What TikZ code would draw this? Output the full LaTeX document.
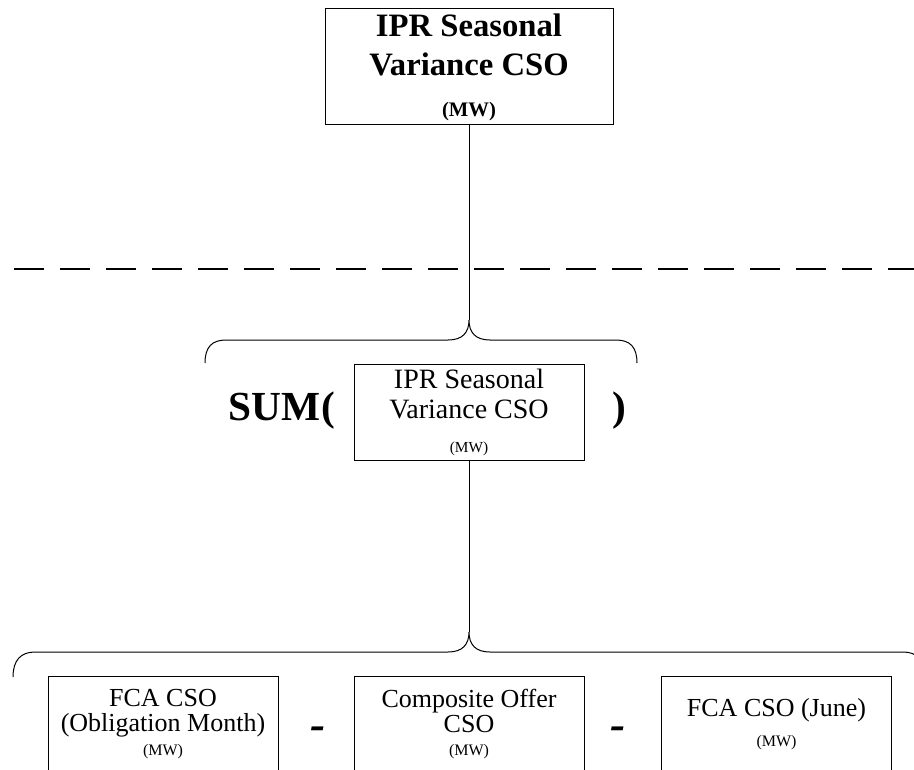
\documentclass[tikz,border=0pt]{standalone}
\usepackage{fontspec}
\setmainfont{Liberation Serif}
\usetikzlibrary{positioning}

\tikzset{
  csobox/.style={draw, line width=0.75pt, align=center, inner sep=0pt, minimum width=172.5pt, minimum height=72pt},
  bracepath/.style={line width=0.75pt},
  bigsign/.style={anchor=base, inner sep=0pt, font=\fontsize{31}{34}\selectfont\bfseries},
}

\begin{document}
\begin{tikzpicture}[x=0.75pt, y=-0.75pt]

\useasboundingbox (0,0) rectangle (914,770);
\clip (0,0) rectangle (914,770);

% boxes
{
\node[csobox, minimum width=216pt, minimum height=87pt, font=\fontsize{24.5}{29.25}\selectfont\bfseries] (total) at (469,67)
{IPR Seasonal\\Variance CSO\\[1.5pt]{\fontsize{15.5}{17}\selectfont (MW)}};

\node[csobox, font=\fontsize{21}{22.5}\selectfont] (ipr) at (469,412)
{IPR Seasonal\\Variance CSO\\[3pt]{\fontsize{11.5}{13}\selectfont (MW)}};

\node[csobox, font=\fontsize{19.5}{18.75}\selectfont] (fcaob) at (163,724)
{FCA CSO\\(Obligation Month)\\[-1pt]{\fontsize{12}{13}\selectfont (MW)}};
\node[csobox, font=\fontsize{19.5}{18.75}\selectfont] (offer) at (469,724)
{Composite Offer\\CSO\\[-1pt]{\fontsize{12}{13}\selectfont (MW)}};
\node[csobox, font=\fontsize{19.5}{18.75}\selectfont] (fcajune) at (776.5,724)
{FCA CSO (June)\\[4pt]{\fontsize{12}{13}\selectfont (MW)}};
}

% dashed line
\draw[line width=1.5pt, dash pattern=on 22.5pt off 12pt] (14,269)--(914,269);

% braces
{
\coordinate (tipA) at (469,320);
\coordinate (tipB) at (469,632);

\draw[bracepath] (205,363) .. controls (205,347) and (212,340) .. (226,340) -- (448,340)
  .. controls (462,340) and (469,333) .. (tipA)
  .. controls (469,333) and (476,340) .. (490,340) -- (616,340)
  .. controls (630,340) and (637,347) .. (637,363);

\draw[bracepath] (13,677) .. controls (13,660) and (21,652) .. (35,652) -- (448,652)
  .. controls (462,652) and (469,645) .. (tipB)
  .. controls (469,645) and (476,652) .. (490,652) -- (903,652)
  .. controls (917,652) and (925,660) .. (925,677);
}

\draw[bracepath] (total)--(tipA);
\draw[bracepath] (ipr)--(tipB);

% signs
{
\node[bigsign, anchor=base west] (sum) at (228,420) {SUM};
\node[bigsign, right=1pt of sum.base east, anchor=base west] (open) {(};
\node[bigsign, anchor=base west] (close) at (612,420) {)};

\node[bigsign, font=\fontsize{34}{36}\selectfont\bfseries\itshape] (minusA) at (318,739) {-};
\node[bigsign, font=\fontsize{34}{36}\selectfont\bfseries\itshape] (minusB) at (618,739) {-};
}

\end{tikzpicture}
\end{document}
